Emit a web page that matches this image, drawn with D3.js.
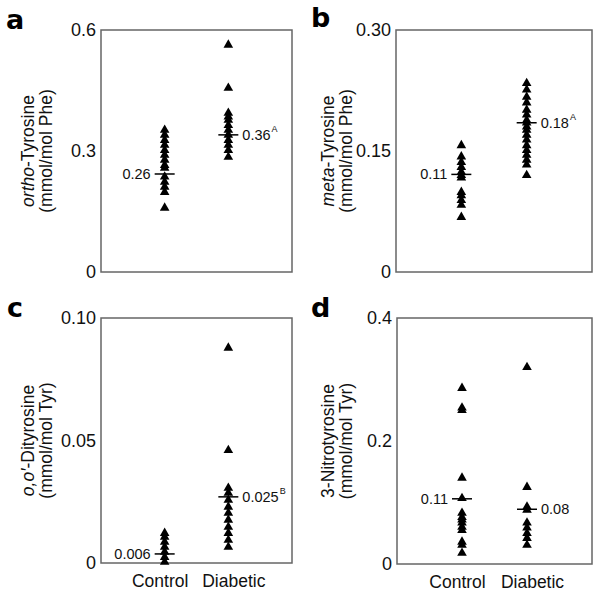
<!DOCTYPE html>
<html>
<head>
<meta charset="utf-8">
<script src="https://cdn.jsdelivr.net/npm/d3@7"></script>
<style>
  body { margin: 0; background: #fff; }
  svg { display: block; font-family: "Liberation Sans", Arial, sans-serif; }
</style>
</head>
<body>
<svg id="chart" width="600" height="594"></svg>
<script>
const groups = ['Control', 'Diabetic'];

// a: ortho-Tyrosine
const orthoControl = [0.352, 0.340, 0.327, 0.315, 0.302, 0.290, 0.278, 0.265, 0.258, 0.236, 0.223, 0.211, 0.198, 0.159];
const orthoDiabetic = [0.563, 0.456, 0.394, 0.385, 0.377, 0.364, 0.352, 0.340, 0.327, 0.315, 0.302, 0.285];
const orthoMeans = [0.243, 0.340];
const orthoMeanLabels = ['0.26', '0.36'];
const orthoSup = ['', 'A'];
const orthoTicks = [0, 0.3, 0.6];

// b: meta-Tyrosine
const metaControl = [0.157, 0.143, 0.136, 0.130, 0.124, 0.120, 0.117, 0.099, 0.095, 0.089, 0.083, 0.068];
const metaDiabetic = [0.234, 0.226, 0.217, 0.210, 0.201, 0.195, 0.188, 0.185, 0.180, 0.176, 0.170, 0.164, 0.157, 0.151, 0.145, 0.139, 0.133, 0.120];
const metaMeans = [0.121, 0.185];
const metaMeanLabels = ['0.11', '0.18'];
const metaSup = ['', 'A'];
const metaTicks = [0, 0.15, 0.30];

// c: o,o'-Dityrosine
const dityrControl = [0.0122, 0.0106, 0.0086, 0.0065, 0.0045, 0.0024, 0.0004];
const dityrDiabetic = [0.0878, 0.046, 0.0306, 0.0286, 0.0257, 0.0229, 0.0204, 0.0176, 0.0147, 0.0122, 0.0094, 0.0065];
const dityrMeans = [0.0037, 0.027];
const dityrMeanLabels = ['0.006', '0.025'];
const dityrSup = ['', 'B'];
const dityrTicks = [0, 0.05, 0.10];

// d: 3-Nitrotyrosine
const nitroControl = [0.286, 0.254, 0.250, 0.140, 0.107, 0.083, 0.076, 0.072, 0.067, 0.060, 0.055, 0.036, 0.031, 0.018];
const nitroDiabetic = [0.320, 0.125, 0.093, 0.088, 0.067, 0.059, 0.050, 0.042, 0.031];
const nitroMeans = [0.106, 0.089];
const nitroMeanLabels = ['0.11', '0.08'];
const nitroSup = ['', ''];
const nitroTicks = [0, 0.2, 0.4];

const panels = [
    { letter: 'a', box: { x: 101, y: 30, w: 191, h: 242 }, letterPos: [6, 29],
      values: [orthoControl, orthoDiabetic], means: orthoMeans, labels: orthoMeanLabels, sups: orthoSup,
      ticks: orthoTicks, fmt: d3.format('.1~f'),
      yLabel: [[{ t: 'ortho', i: true }, { t: '-Tyrosine' }], [{ t: '(mmol/mol Phe)' }]] },
    { letter: 'b', box: { x: 396, y: 30, w: 196, h: 242 }, letterPos: [311, 27],
      values: [metaControl, metaDiabetic], means: metaMeans, labels: metaMeanLabels, sups: metaSup,
      ticks: metaTicks, fmt: d => d === 0 ? '0' : d3.format('.2f')(d),
      yLabel: [[{ t: 'meta', i: true }, { t: '-Tyrosine' }], [{ t: '(mmol/mol Phe)' }]] },
    { letter: 'c', box: { x: 101, y: 318, w: 191, h: 245 }, letterPos: [7, 317],
      values: [dityrControl, dityrDiabetic], means: dityrMeans, labels: dityrMeanLabels, sups: dityrSup,
      ticks: dityrTicks, fmt: d => d === 0 ? '0' : d3.format('.2f')(d),
      yLabel: [[{ t: 'o,o\u2032', i: true }, { t: '-Dityrosine' }], [{ t: '(mmol/mol Tyr)' }]] },
    { letter: 'd', box: { x: 397, y: 318, w: 195, h: 246 }, letterPos: [311, 317],
      values: [nitroControl, nitroDiabetic], means: nitroMeans, labels: nitroMeanLabels, sups: nitroSup,
      ticks: nitroTicks, fmt: d3.format('.1~f'),
      yLabel: [[{ t: '3-Nitrotyrosine' }], [{ t: '(mmol/mol Tyr)' }]] }
];

const svg = d3.select('#chart');
const triangle = d3.symbol().type(d3.symbolTriangle).size(40);

panels.forEach((p, pi) => {
    const b = p.box;
    const x = d3.scalePoint().domain(groups).range([0, b.w]).padding(1);
    const y = d3.scaleLinear().domain([0, d3.max(p.ticks)]).range([b.h, 0]);

    svg.append('text')
        .attr('x', p.letterPos[0]).attr('y', p.letterPos[1])
        .attr('font-size', '27px').attr('font-weight', 'bold')
        .attr('font-family', '"DejaVu Sans", sans-serif')
        .text(p.letter);

    const g = svg.append('g').attr('transform', `translate(${b.x}, ${b.y})`);

    g.append('rect')
        .attr('width', b.w).attr('height', b.h)
        .attr('fill', 'none').attr('stroke', '#666').attr('stroke-width', 1.5);

    // y axis: labels only, no ticks or domain
    g.append('g')
        .call(d3.axisLeft(y).tickValues(p.ticks).tickFormat(p.fmt).tickSize(0).tickPadding(5))
        .call(ax => ax.select('.domain').remove())
        .call(ax => ax.selectAll('text')
            .attr('font-size', '18px').attr('fill', '#111')
            .attr('font-family', '"Liberation Sans", Arial, sans-serif'));

    // y title (two lines, rotated)
    const yt = g.append('text')
        .attr('transform', `translate(${-b.x + (pi % 2 ? 300 : 0) + 34}, ${b.h / 2}) rotate(-90)`)
        .attr('text-anchor', 'middle')
        .attr('font-size', '17.5px').attr('fill', '#111');
    p.yLabel.forEach((line, li) => {
        line.forEach((part, k) => {
            const ts = yt.append('tspan').text(part.t);
            if (part.i) ts.attr('font-style', 'italic');
            if (k === 0) ts.attr('x', 0).attr('dy', li === 0 ? 0 : '1.05em');
        });
    });

    // points
    groups.forEach((grp, gi) => {
        g.selectAll(`.pt-${gi}`)
            .data(p.values[gi])
            .join('path')
            .attr('class', `pt-${gi}`)
            .attr('d', triangle)
            .attr('transform', d => `translate(${x(grp)}, ${y(d)})`)
            .attr('fill', '#000');

        // mean line
        g.append('line')
            .attr('x1', x(grp) - 10).attr('x2', x(grp) + 10)
            .attr('y1', y(p.means[gi])).attr('y2', y(p.means[gi]))
            .attr('stroke', '#000').attr('stroke-width', 1.5);

        const lbl = g.append('text')
            .attr('x', gi === 0 ? x(grp) - 14 : x(grp) + 14)
            .attr('y', y(p.means[gi]))
            .attr('dy', '0.35em')
            .attr('text-anchor', gi === 0 ? 'end' : 'start')
            .attr('font-size', '14.5px').attr('fill', '#111')
            .text(p.labels[gi]);
        if (p.sups[gi]) {
            lbl.append('tspan')
                .attr('font-size', '9px').attr('dy', '-0.9em').attr('dx', '1')
                .text(p.sups[gi]);
        }
    });

    // x category labels only on bottom row
    if (pi >= 2) {
        g.append('g')
            .attr('transform', `translate(0, ${b.h})`)
            .call(d3.axisBottom(x).tickSize(0).tickPadding(12))
            .call(ax => ax.select('.domain').remove())
            .call(ax => ax.selectAll('text')
                .attr('font-size', '17.5px').attr('fill', '#111')
                .attr('font-family', '"Liberation Sans", Arial, sans-serif')
                .attr('dx', (d, i) => i === 0 ? -5 : 5));
    }
});
</script>
</body>
</html>
